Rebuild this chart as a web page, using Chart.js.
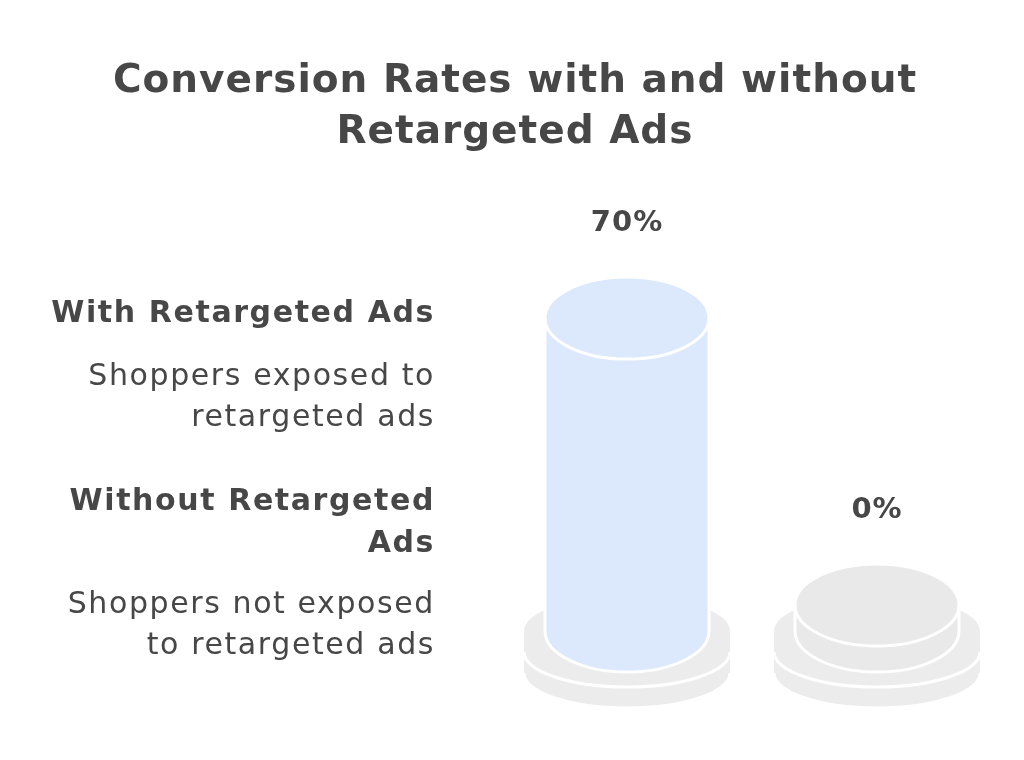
<!DOCTYPE html>
<html>
<head>
<meta charset="utf-8">
<script src="https://cdn.jsdelivr.net/npm/chart.js@4.4.1/dist/chart.umd.min.js"></script>
<style>
    body { margin: 0; background: #ffffff; }
    #wrap { position: relative; width: 1024px; height: 760px; }
</style>
</head>
<body>
<div id="wrap"><canvas id="chart"></canvas></div>
<script>
// data
var categories = ['With Retargeted Ads', 'Without Retargeted Ads'];
var conversionRates = [70, 0];
var valueLabels = ['70%', '0%'];
var titleLines = ['Conversion Rates with and without', 'Retargeted Ads'];

// left side text, one block per category
var headingLines = [['With Retargeted Ads'], ['Without Retargeted', 'Ads']];
var descriptionLines = [['Shoppers exposed to', 'retargeted ads'], ['Shoppers not exposed', 'to retargeted ads']];

var TEXT_COLOR = '#474747';
var BAR_COLORS = ['#dce8fc', '#e9e9e9'];
var BASE_COLOR = '#ececec';
var FONT = '"DejaVu Sans", "Noto Sans", sans-serif';

function drawCylinder(ctx, cx, yTop, yBottom, rx, ry, fill, outline) {
    ctx.beginPath();
    ctx.ellipse(cx, yTop, rx, ry, 0, Math.PI, 2 * Math.PI);
    ctx.lineTo(cx + rx, yBottom);
    ctx.ellipse(cx, yBottom, rx, ry, 0, 0, Math.PI);
    ctx.closePath();
    ctx.fillStyle = fill;
    ctx.fill();
    ctx.strokeStyle = '#ffffff';
    ctx.lineWidth = 3;
    if (outline) {
        ctx.stroke();
        // front edge of the top face
        ctx.beginPath();
        ctx.ellipse(cx, yTop, rx, ry, 0, 0, Math.PI);
        ctx.stroke();
    } else {
        ctx.beginPath();
        ctx.ellipse(cx, yBottom, rx, ry, 0, 0, Math.PI);
        ctx.stroke();
    }
}

var cylinderPlugin = {
    id: 'cylinders',
    beforeDatasetDraw: function () {
        return false; // bars are drawn as cylinders below
    },
    afterDatasetsDraw: function (chart) {
        var ctx = chart.ctx;
        var meta = chart.getDatasetMeta(0);
        ctx.save();
        meta.data.forEach(function (bar, i) {
            var cx = bar.x;
            var rx = bar.width / 2;
            var ry = rx / 2;
            var baseRx = rx + 21;
            var baseRy = 35;
            var t = 21;
            // two stacked plates under each bar
            drawCylinder(ctx, cx, bar.base + t, bar.base + 2 * t, baseRx, baseRy, BASE_COLOR, false);
            drawCylinder(ctx, cx, bar.base, bar.base + t, baseRx, baseRy, BASE_COLOR, false);
            drawCylinder(ctx, cx, bar.y, bar.base, rx, ry, BAR_COLORS[i], true);

            ctx.fillStyle = TEXT_COLOR;
            ctx.font = 'bold 29px ' + FONT;
            ctx.letterSpacing = '1px';
            ctx.textAlign = 'center';
            ctx.textBaseline = 'alphabetic';
            ctx.fillText(valueLabels[i], cx, bar.y - ry - 46);
        });
        ctx.restore();
    }
};

var textPlugin = {
    id: 'sideText',
    afterDraw: function (chart) {
        var ctx = chart.ctx;
        ctx.save();
        ctx.fillStyle = TEXT_COLOR;
        ctx.textBaseline = 'alphabetic';

        ctx.textAlign = 'center';
        ctx.font = 'bold 39px ' + FONT;
        ctx.letterSpacing = '1px';
        ctx.fillText(titleLines[0], 515, 92);
        ctx.fillText(titleLines[1], 515, 143);

        ctx.textAlign = 'right';
        ctx.letterSpacing = '1.6px';
        var headBase = [322, 510];
        var descBase = [385, 613];
        for (var i = 0; i < categories.length; i++) {
            ctx.font = 'bold 30px ' + FONT;
            headingLines[i].forEach(function (line, j) {
                ctx.fillText(line, 435, headBase[i] + j * 42);
            });
            ctx.font = '30px ' + FONT;
            descriptionLines[i].forEach(function (line, j) {
                ctx.fillText(line, 435, descBase[i] + j * 41);
            });
        }
        ctx.restore();
    }
};

var ctx = document.getElementById('chart').getContext('2d');
var chart = new Chart(ctx, {
    type: 'bar',
    data: {
        labels: categories,
        datasets: [{
            label: 'Conversion rate',
            data: conversionRates,
            backgroundColor: BAR_COLORS,
            minBarLength: 26,
            categoryPercentage: 1,
            barPercentage: 0.656
        }]
    },
    options: {
        responsive: true,
        maintainAspectRatio: false,
        animation: false,
        layout: {
            padding: { left: 502, right: 22, top: 184, bottom: 129 }
        },
        plugins: {
            legend: { display: false },
            tooltip: { enabled: false },
            title: { display: false }
        },
        scales: {
            x: { display: false },
            y: { display: false, min: 0, max: 100 }
        }
    },
    plugins: [cylinderPlugin, textPlugin]
});
</script>
</body>
</html>
